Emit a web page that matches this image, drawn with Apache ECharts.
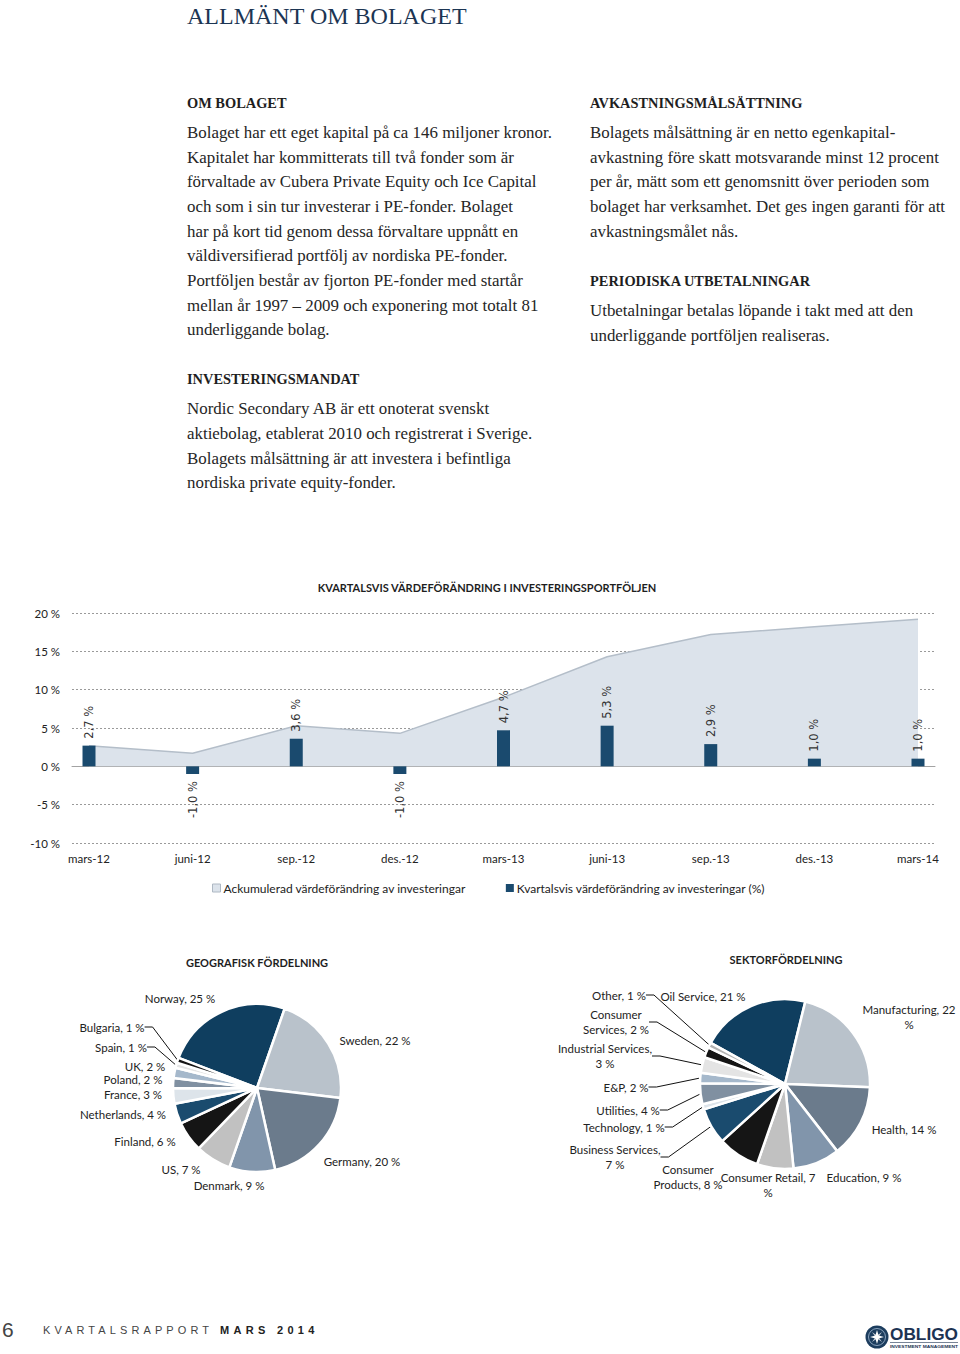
<!DOCTYPE html>
<html lang="sv">
<head>
<meta charset="utf-8">
<title>Allmänt om bolaget</title>
<script src="https://cdn.jsdelivr.net/npm/echarts@6/dist/echarts.min.js"></script>
<style>
  html, body { margin: 0; padding: 0; background: #fff; }
  #page { position: relative; width: 960px; height: 1354px; overflow: hidden; }
  #chart { position: absolute; left: 0; top: 0; width: 960px; height: 1354px; z-index: 0; }
  .t { position: absolute; white-space: nowrap; z-index: 1; }
  .h1 { font-family: "Liberation Serif", serif; font-size: 24px; color: #1c3553; line-height: 30px; }
  .h2 { font-family: "Liberation Serif", serif; font-size: 14.4px; color: #1e1e1e; line-height: 18px; font-weight: bold; }
  .p { font-family: "Liberation Serif", serif; font-size: 16.9px; color: #262626; line-height: 22px; }
  .foot { font-family: "Liberation Sans", sans-serif; color: #333; }
</style>
</head>
<body>
<div id="page">
  <div id="chart"></div>

  <div class="t h1" style="left:187px;top:1px;">ALLMÄNT OM BOLAGET</div>

  <div class="t h2" style="left:187px;top:94px;">OM BOLAGET</div>
  <div class="t p" style="left:187px;top:122px;">Bolaget har ett eget kapital på ca 146 miljoner kronor.</div>
  <div class="t p" style="left:187px;top:146.5px;">Kapitalet har kommitterats till två fonder som är</div>
  <div class="t p" style="left:187px;top:171px;">förvaltade av Cubera Private Equity och Ice Capital</div>
  <div class="t p" style="left:187px;top:196px;">och som i sin tur investerar i PE-fonder. Bolaget</div>
  <div class="t p" style="left:187px;top:221px;">har på kort tid genom dessa förvaltare uppnått en</div>
  <div class="t p" style="left:187px;top:245px;">väldiversifierad portfölj av nordiska PE-fonder.</div>
  <div class="t p" style="left:187px;top:270px;">Portföljen består av fjorton PE-fonder med startår</div>
  <div class="t p" style="left:187px;top:295px;">mellan år 1997 – 2009 och exponering mot totalt 81</div>
  <div class="t p" style="left:187px;top:319px;">underliggande bolag.</div>

  <div class="t h2" style="left:187px;top:370px;">INVESTERINGSMANDAT</div>
  <div class="t p" style="left:187px;top:398px;">Nordic Secondary AB är ett onoterat svenskt</div>
  <div class="t p" style="left:187px;top:423px;">aktiebolag, etablerat 2010 och registrerat i Sverige.</div>
  <div class="t p" style="left:187px;top:448px;">Bolagets målsättning är att investera i befintliga</div>
  <div class="t p" style="left:187px;top:472px;">nordiska private equity-fonder.</div>

  <div class="t h2" style="left:590px;top:94px;">AVKASTNINGSMÅLSÄTTNING</div>
  <div class="t p" style="left:590px;top:122px;">Bolagets målsättning är en netto egenkapital-</div>
  <div class="t p" style="left:590px;top:147px;">avkastning före skatt motsvarande minst 12 procent</div>
  <div class="t p" style="left:590px;top:171px;">per år, mätt som ett genomsnitt över perioden som</div>
  <div class="t p" style="left:590px;top:196px;">bolaget har verksamhet. Det ges ingen garanti för att</div>
  <div class="t p" style="left:590px;top:221px;">avkastningsmålet nås.</div>

  <div class="t h2" style="left:590px;top:272px;">PERIODISKA UTBETALNINGAR</div>
  <div class="t p" style="left:590px;top:300px;">Utbetalningar betalas löpande i takt med att den</div>
  <div class="t p" style="left:590px;top:325px;">underliggande portföljen realiseras.</div>

  <div class="t foot" style="left:2px;top:1318px;font-size:21px;color:#444;">6</div>
  <div class="t foot" style="left:43px;top:1324px;font-size:11px;letter-spacing:4.1px;color:#444;">KVARTALSRAPPORT <b style="color:#222;letter-spacing:4.3px;">MARS 2014</b></div>

  <div class="t" style="left:864px;top:1324px;width:96px;height:28px;">
    <svg width="96" height="28" viewBox="0 0 96 28">
      <circle cx="13" cy="13" r="11.5" fill="#1c3d5e"/>
      <circle cx="13" cy="13" r="8.5" fill="none" stroke="#8aa3bd" stroke-width="1"/>
      <path d="M13 6 L14.6 11.4 L20 13 L14.6 14.6 L13 20 L11.4 14.6 L6 13 L11.4 11.4 Z" fill="#ffffff"/>
      <path d="M8 8 L13 11.5 L18 8 L14.5 13 L18 18 L13 14.5 L8 18 L11.5 13 Z" fill="#ffffff" opacity="0.75"/>
      <text x="26" y="15.5" font-family="Liberation Sans, sans-serif" font-weight="bold" font-size="17" fill="#1c3353" textLength="68" lengthAdjust="spacingAndGlyphs">OBLIGO</text>
      <line x1="26" y1="18.5" x2="94" y2="18.5" stroke="#1c3353" stroke-width="0.6"/>
      <text x="26" y="23.5" font-family="Liberation Sans, sans-serif" font-weight="bold" font-size="4" fill="#1c3353" textLength="68" lengthAdjust="spacingAndGlyphs">INVESTMENT MANAGEMENT</text>
    </svg>
  </div>
</div>

<script>
// ---------- data ----------
const categories = ['mars-12', 'juni-12', 'sep.-12', 'des.-12', 'mars-13', 'juni-13', 'sep.-13', 'des.-13', 'mars-14'];
const quarterlyChange = [2.7, -1.0, 3.6, -1.0, 4.7, 5.3, 2.9, 1.0, 1.0];
const cumulativeChange = [2.7, 1.7, 5.3, 4.3, 9.0, 14.3, 17.2, 18.2, 19.2];
const yAxisMin = -10;
const yAxisMax = 20;
const yAxisStep = 5;

const geoNames = ['Norway', 'Sweden', 'Germany', 'Denmark', 'US', 'Finland', 'Netherlands', 'France', 'Poland', 'UK', 'Spain', 'Bulgaria'];
const geoValues = [25, 22, 20, 9, 7, 6, 4, 3, 2, 2, 1, 1];

const sectorNames = ['Oil Service', 'Manufacturing', 'Health', 'Education', 'Consumer Retail', 'Consumer Products', 'Business Services', 'Technology', 'Utilities', 'E&P', 'Industrial Services', 'Consumer Services', 'Other'];
const sectorValues = [21, 22, 14, 9, 7, 8, 7, 1, 4, 2, 3, 2, 1];

// ---------- styles ----------
const FONT = 'Lato, "Open Sans", sans-serif';
const paletteGeo = ['#0f3e5f', '#b9c2cb', '#6b7b8c', '#8195ab', '#c1c1c1', '#151515', '#1a4b6e', '#dde4ea', '#8090a1', '#a5b8cb', '#e4e4e4', '#151515'];
const paletteSector = ['#0f3e5f', '#b9c2cb', '#6b7b8c', '#8195ab', '#c1c1c1', '#151515', '#1a4b6e', '#dde4ea', '#8090a1', '#a5b8cb', '#e4e4e4', '#151515', '#b3b3b3'];

const geoLeader = { 'Spain': true, 'Bulgaria': true };
const sectorLeader = { 'Other': true, 'Consumer Services': true, 'Industrial Services': true, 'E&P': true, 'Utilities': true, 'Technology': true, 'Business Services': true };
// how labels wrap: 'pct' -> break before "%", 'comma' -> break after comma, 'word' -> break after first word
const sectorWrap = { 'Manufacturing': 'pct', 'Consumer Services': 'word', 'Industrial Services': 'comma', 'Business Services': 'comma', 'Consumer Products': 'word', 'Consumer Retail': 'pct' };

// label anchor placements (layout only)
const geoLabelPlace = {
  'Norway': [180, 998], 'Sweden': [375, 1040], 'Germany': [362, 1161], 'Denmark': [229, 1185],
  'US': [181, 1169], 'Finland': [145, 1141], 'Netherlands': [123, 1114], 'France': [133, 1094],
  'Poland': [133, 1079], 'UK': [145, 1066], 'Spain': [121, 1047], 'Bulgaria': [112, 1027]
};
const sectorLabelPlace = {
  'Oil Service': [703, 996], 'Manufacturing': [909, 1017], 'Health': [904, 1129], 'Education': [864, 1177],
  'Consumer Retail': [768, 1185], 'Consumer Products': [688, 1177], 'Business Services': [615, 1157],
  'Technology': [624, 1127], 'Utilities': [628, 1110], 'E&P': [626, 1087], 'Industrial Services': [605, 1056],
  'Consumer Services': [616, 1022], 'Other': [619, 995]
};

function pctText(v) { return v.toFixed(1).replace('.', ',') + ' %'; }

function sectorLabel(name, value) {
  const w = sectorWrap[name];
  if (w === 'pct') return name + ', ' + value + '\n%';
  if (w === 'comma') return name + ',\n' + value + ' %';
  if (w === 'word') { const i = name.indexOf(' '); return name.slice(0, i) + '\n' + name.slice(i + 1) + ', ' + value + ' %'; }
  return name + ', ' + value + ' %';
}

const barData = quarterlyChange.map(v => ({
  value: v,
  label: v >= 0
    ? { position: 'top', align: 'left' }
    : { position: 'bottom', align: 'right' }
}));

const geoData = geoNames.map((n, i) => ({
  name: n, value: geoValues[i],
  itemStyle: { color: paletteGeo[i] },
  labelLine: { show: !!geoLeader[n] }
}));
const sectorData = sectorNames.map((n, i) => ({
  name: n, value: sectorValues[i],
  itemStyle: { color: paletteSector[i] },
  labelLine: { show: !!sectorLeader[n] }
}));

const pieLabelStyle = {
  show: true, position: 'outside', color: '#222', fontFamily: FONT, fontSize: 11.5, lineHeight: 15.5, align: 'center'
};

const chart = echarts.init(document.getElementById('chart'), null, { renderer: 'svg' });

const option = {
  animation: false,
  backgroundColor: 'transparent',
  graphic: [
    { type: 'text', x: 487, y: 587, style: { text: 'KVARTALSVIS VÄRDEFÖRÄNDRING I INVESTERINGSPORTFÖLJEN', fill: '#1e1e1e', font: 'bold 11px ' + FONT, textAlign: 'center', textVerticalAlign: 'middle' } },
    { type: 'text', x: 257, y: 962, style: { text: 'GEOGRAFISK FÖRDELNING', fill: '#1e1e1e', font: 'bold 11px ' + FONT, textAlign: 'center', textVerticalAlign: 'middle' } },
    { type: 'text', x: 786, y: 959, style: { text: 'SEKTORFÖRDELNING', fill: '#1e1e1e', font: 'bold 11px ' + FONT, textAlign: 'center', textVerticalAlign: 'middle' } }
  ],
  legend: {
    left: 212, top: 882, padding: 0, itemWidth: 8, itemHeight: 8, itemGap: 40, icon: 'rect',
    textStyle: { fontFamily: FONT, fontSize: 12, color: '#222', padding: [0, 0, 0, -2] },
    data: [
      { name: 'Ackumulerad värdeförändring av investeringar', itemStyle: { color: '#dce3eb', borderColor: '#aeb8c3', borderWidth: 1 } },
      { name: 'Kvartalsvis värdeförändring av investeringar (%)', itemStyle: { color: '#1a4a6e' } }
    ]
  },
  grid: [
    { left: 89, width: 829, top: 613, height: 230, outerBoundsMode: 'none' },
    { left: 72, width: 863, top: 613, height: 230, outerBoundsMode: 'none' }
  ],
  xAxis: [
    {
      type: 'category', gridIndex: 0, data: categories, boundaryGap: false, position: 'bottom',
      axisLine: { show: false, onZero: false }, axisTick: { show: false }, splitLine: { show: false },
      axisLabel: { margin: 9, fontFamily: FONT, fontSize: 11.5, color: '#222', interval: 0 }
    },
    {
      type: 'category', gridIndex: 1, data: categories, boundaryGap: false,
      axisLine: { show: true, onZero: true, lineStyle: { color: '#a3a3a3', width: 1 } },
      axisTick: { show: false }, axisLabel: { show: false }, splitLine: { show: false }
    }
  ],
  yAxis: [
    {
      type: 'value', gridIndex: 0, min: yAxisMin, max: yAxisMax, interval: yAxisStep,
      axisLine: { show: false }, axisTick: { show: false }, axisLabel: { show: false }, splitLine: { show: false }
    },
    {
      type: 'value', gridIndex: 1, min: yAxisMin, max: yAxisMax, interval: yAxisStep,
      axisLine: { show: false }, axisTick: { show: false },
      axisLabel: { margin: 12, fontFamily: FONT, fontSize: 11.5, color: '#222', formatter: v => v + ' %' },
      splitLine: { show: true, lineStyle: { color: '#9a9a9a', width: 1, type: [2, 2] } }
    }
  ],
  series: [
    {
      name: 'Ackumulerad värdeförändring av investeringar', type: 'line', xAxisIndex: 0, yAxisIndex: 0,
      data: cumulativeChange, symbol: 'none', z: 1,
      itemStyle: { color: '#dce3eb' },
      lineStyle: { color: '#b4bec9', width: 1.5 },
      areaStyle: { color: '#dce3eb', opacity: 1 }
    },
    {
      name: 'Kvartalsvis värdeförändring av investeringar (%)', type: 'bar', xAxisIndex: 0, yAxisIndex: 0,
      data: barData, barWidth: 13, z: 3,
      itemStyle: { color: '#1a4a6e' },
      label: {
        show: true, rotate: 90, verticalAlign: 'middle', distance: 7,
        fontFamily: '"DejaVu Sans", sans-serif', fontSize: 11.5, color: '#333',
        formatter: p => pctText(p.value)
      }
    },
    {
      name: 'Geografisk fördelning', type: 'pie', center: [257, 1088], radius: 84, startAngle: 159,
      data: geoData, avoidLabelOverlap: false,
      itemStyle: { borderColor: '#ffffff', borderWidth: 2.5 },
      label: Object.assign({}, pieLabelStyle, { formatter: p => p.name + ', ' + p.value + ' %' }),
      labelLine: { length: 8, length2: 8, lineStyle: { color: '#111', width: 1 } },
      labelLayout: p => {
        const pos = geoLabelPlace[geoNames[p.dataIndex]];
        return { x: pos[0], y: pos[1], align: 'center', verticalAlign: 'middle' };
      },
      emphasis: { disabled: true }
    },
    {
      name: 'Sektorfördelning', type: 'pie', center: [785, 1084], radius: 85, startAngle: 151,
      data: sectorData, avoidLabelOverlap: false,
      itemStyle: { borderColor: '#ffffff', borderWidth: 2.5 },
      label: Object.assign({}, pieLabelStyle, { formatter: p => sectorLabel(p.name, p.value) }),
      labelLine: { length: 8, length2: 8, lineStyle: { color: '#111', width: 1 } },
      labelLayout: p => {
        const pos = sectorLabelPlace[sectorNames[p.dataIndex]];
        return { x: pos[0], y: pos[1], align: 'center', verticalAlign: 'middle' };
      },
      emphasis: { disabled: true }
    }
  ]
};
chart.setOption(option);
</script>
</body>
</html>
